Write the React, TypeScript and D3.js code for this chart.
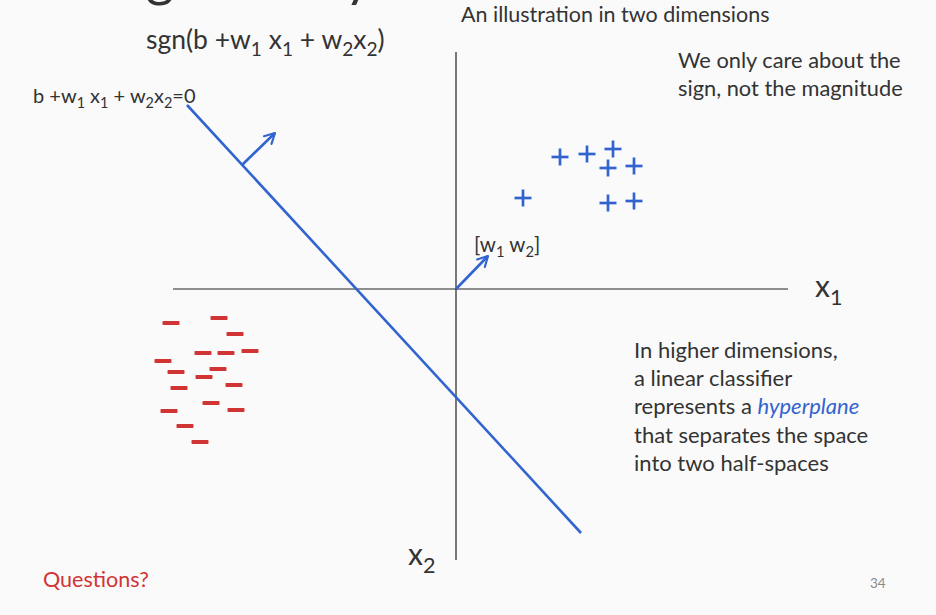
import React from "react";
import * as d3 from "d3";

// ---- data (x1, x2 coordinates in the illustration's own units) ----
const plusX1 = [6.7, 10.4, 13.1, 15.7, 15.2, 17.8, 15.2, 17.8];
const plusX2 = [9.1, 13.2, 13.5, 14.0, 12.1, 12.3, 8.6, 8.8];
const minusX1 = [-28.5, -23.7, -22.1, -25.3, -23.0, -20.6, -29.3, -28.0, -23.8, -25.2, -27.7, -22.2, -24.5, -28.7, -22.0, -27.1, -25.6];
const minusX2 = [-3.4, -2.9, -4.5, -6.4, -6.4, -6.2, -7.2, -8.3, -8.0, -8.8, -9.9, -9.6, -11.4, -12.2, -12.1, -13.7, -15.3];
const boundaryX1 = [-26.9, 12.5];
const boundaryX2 = [18.4, -24.4];
const normalX1 = [-21.4, -18.1];
const normalX2 = [12.4, 15.6];
const weightX1 = [0, 3.2];
const weightX2 = [0, 3.3];
const axisX1Domain = [-28.3, 33.2];
const axisX2Domain = [-27.1, 23.7];

const W = 936;
const H = 615;
const BLUE = "#3264d0";
const RED = "#d13434";
const TEXT = "#333333";
const FONT = "Lato, 'Open Sans', sans-serif";

type Part = { t: string; sub?: boolean };

function SubText({ parts, x, y, size, fill = TEXT }: { parts: Part[]; x: number; y: number; size: number; fill?: string }) {
  const shift = size * 0.25;
  let inSub = false;
  const spans = parts.map((p, i) => {
    let dy = 0;
    if (p.sub && !inSub) dy = shift;
    if (!p.sub && inSub) dy = -shift;
    inSub = !!p.sub;
    return (
      <tspan key={i} dy={dy} fontSize={p.sub ? size * 0.72 : size}>
        {p.t}
      </tspan>
    );
  });
  return (
    <text x={x} y={y} fontSize={size} fill={fill} fontFamily={FONT}>
      {spans}
    </text>
  );
}

export default function App() {
  const x = d3.scaleLinear().domain(axisX1Domain).range([173, 788]);
  const y = d3.scaleLinear().domain(axisX2Domain).range([560, 52]);
  const line = d3.line<[number, number]>().x((d) => x(d[0])).y((d) => y(d[1]));

  const boundary = boundaryX1.map((v, i) => [v, boundaryX2[i]] as [number, number]);
  const normal = normalX1.map((v, i) => [v, normalX2[i]] as [number, number]);
  const weight = weightX1.map((v, i) => [v, weightX2[i]] as [number, number]);

  const plusHalf = 8.5;
  const minusHalf = 8.5;

  return (
    <svg width={W} height={H} style={{ position: "absolute", left: 0, top: 0, background: "#fafafa" }}>
      <defs>
        <marker id="arr" viewBox="0 0 10 10" refX="8.5" refY="5" markerWidth="5.2" markerHeight="5.2" orient="auto" markerUnits="strokeWidth">
          <path d="M1,1 L8.5,5 L1,9" fill="none" stroke={BLUE} strokeWidth={1.6} strokeLinecap="round" strokeLinejoin="round" />
        </marker>
      </defs>
      <rect x={0} y={0} width={W} height={H} fill="#fafafa" />

      {/* slide title, mostly above the visible area (only descenders show) */}
      <text x={146} y={-4} fontSize={54} fill={TEXT} fontFamily={FONT}>geometry</text>

      {/* axes */}
      <line x1={x(axisX1Domain[0])} x2={x(axisX1Domain[1])} y1={y(0)} y2={y(0)} stroke="#222" strokeWidth={1.2} />
      <line x1={x(0)} x2={x(0)} y1={y(axisX2Domain[0])} y2={y(axisX2Domain[1])} stroke="#222" strokeWidth={1.2} />

      {/* decision boundary */}
      <path d={line(boundary) || ""} stroke={BLUE} strokeWidth={2.6} fill="none" />
      <path d={line(normal) || ""} stroke={BLUE} strokeWidth={2.6} fill="none" markerEnd="url(#arr)" />
      <path d={line(weight) || ""} stroke={BLUE} strokeWidth={2.6} fill="none" markerEnd="url(#arr)" />

      {/* positive points */}
      {plusX1.map((v, i) => {
        const cx = x(v);
        const cy = y(plusX2[i]);
        return (
          <g key={"p" + i} stroke={BLUE} strokeWidth={2.7}>
            <line x1={cx - plusHalf} x2={cx + plusHalf} y1={cy} y2={cy} />
            <line x1={cx} x2={cx} y1={cy - plusHalf} y2={cy + plusHalf} />
          </g>
        );
      })}

      {/* negative points */}
      {minusX1.map((v, i) => {
        const cx = x(v);
        const cy = y(minusX2[i]);
        return <rect key={"m" + i} x={cx - minusHalf} y={cy - 2} width={minusHalf * 2} height={4} fill={RED} rx={0.8} />;
      })}

      {/* texts */}
      <SubText
        x={146}
        y={49}
        size={26.5}
        parts={[
          { t: "sgn(b +w" },
          { t: "1", sub: true },
          { t: " x" },
          { t: "1", sub: true },
          { t: " + w" },
          { t: "2", sub: true },
          { t: "x" },
          { t: "2", sub: true },
          { t: ")" },
        ]}
      />
      <SubText
        x={33}
        y={103}
        size={20}
        parts={[
          { t: "b +w" },
          { t: "1", sub: true },
          { t: " x" },
          { t: "1", sub: true },
          { t: " + w" },
          { t: "2", sub: true },
          { t: "x" },
          { t: "2", sub: true },
          { t: "=0" },
        ]}
      />
      <text x={461} y={22} fontSize={21.5} fill={TEXT} fontFamily={FONT}>An illustration in two dimensions</text>
      <text x={678} y={68} fontSize={21.8} fill={TEXT} fontFamily={FONT}>We only care about the</text>
      <text x={678} y={96} fontSize={21.8} fill={TEXT} fontFamily={FONT}>sign, not the magnitude</text>
      <SubText x={474} y={252} size={20.5} parts={[{ t: "[w" }, { t: "1", sub: true }, { t: " w" }, { t: "2", sub: true }, { t: "]" }]} />
      <SubText x={815} y={297} size={30} parts={[{ t: "x" }, { t: "1", sub: true }]} />
      <SubText x={408} y={565} size={30} parts={[{ t: "x" }, { t: "2", sub: true }]} />

      <g fontSize={22} fill={TEXT} fontFamily={FONT}>
        <text x={634} y={358}>In higher dimensions,</text>
        <text x={634} y={386}>a linear classifier</text>
        <text x={634} y={414}>
          represents a <tspan fill={BLUE} fontStyle="italic">hyperplane</tspan>
        </text>
        <text x={634} y={443}>that separates the space</text>
        <text x={634} y={471}>into two half-spaces</text>
      </g>

      <text x={43} y={587} fontSize={21.5} fill={RED} fontFamily={FONT}>Questions?</text>
      <text x={870} y={588} fontSize={13.5} fill="#8a8a8a" fontFamily={FONT}>34</text>
    </svg>
  );
}
